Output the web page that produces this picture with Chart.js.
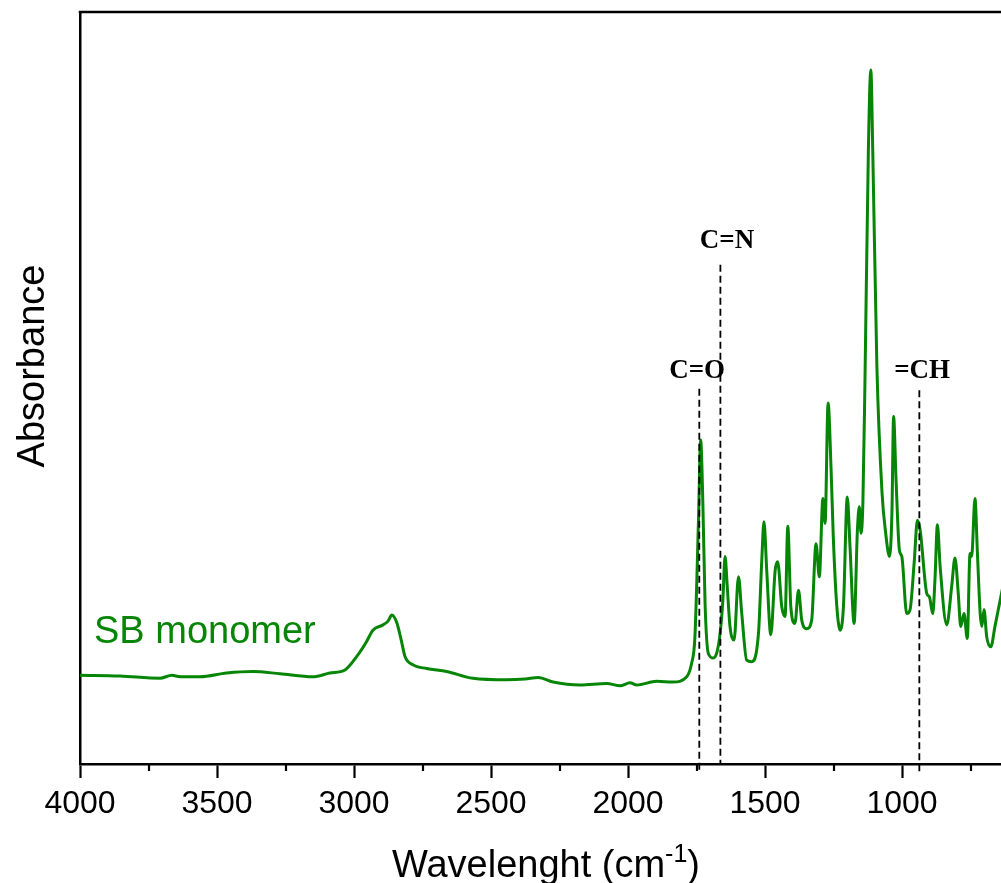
<!DOCTYPE html>
<html>
<head>
<meta charset="utf-8">
<script src="https://cdn.jsdelivr.net/npm/chart.js@4/dist/chart.umd.min.js"></script>
<style>
    html, body { margin: 0; padding: 0; background: #fff; }
    #wrap { width: 1001px; height: 883px; }
</style>
</head>
<body>
<div id="wrap"><canvas id="ftir" width="1001" height="883"></canvas></div>
<script>
// FTIR spectrum (wavenumber in cm-1, absorbance in a.u.)
const wavenumbers = [
    4000, 3854, 3708, 3665, 3635, 3562, 3465, 3369, 3270, 3150, 3088, 3033, 2990, 2954, 2931,
    2894, 2876, 2862, 2844, 2828, 2814, 2785, 2735, 2662, 2566, 2443, 2376, 2328, 2274, 2175,
    2078, 2029, 1993, 1968, 1895, 1836, 1786, 1768, 1756, 1743, 1735, 1727, 1719, 1707, 1689,
    1676, 1664, 1654, 1646, 1638, 1628, 1613, 1597, 1585, 1567, 1549, 1524, 1512, 1504, 1494,
    1479, 1463, 1454, 1439, 1427, 1417, 1406, 1391, 1378, 1366, 1348, 1330, 1314, 1302, 1289,
    1281, 1270, 1259, 1251, 1239, 1226, 1214, 1200, 1190, 1175, 1163, 1156, 1150, 1143, 1135,
    1123, 1114, 1107, 1092, 1073, 1061, 1046, 1037, 1031, 1022, 1010, 1001, 983, 971, 956,
    944, 934, 910, 900, 888, 880, 871, 861, 837, 819, 807, 795, 786, 774, 762,
    752, 746, 734, 725, 715, 709, 701, 691, 676, 661, 642, 631
];
const absorbance = [
    0.118, 0.117, 0.114, 0.118, 0.116, 0.116, 0.121, 0.123, 0.120, 0.116, 0.121, 0.125, 0.143, 0.163, 0.178,
    0.185, 0.190, 0.198, 0.188, 0.165, 0.143, 0.132, 0.127, 0.123, 0.114, 0.112, 0.113, 0.115, 0.109, 0.105,
    0.107, 0.104, 0.108, 0.105, 0.110, 0.109, 0.116, 0.134, 0.169, 0.324, 0.431, 0.347, 0.214, 0.147, 0.141,
    0.148, 0.174, 0.218, 0.276, 0.236, 0.183, 0.165, 0.249, 0.200, 0.138, 0.136, 0.174, 0.271, 0.322, 0.258,
    0.172, 0.258, 0.269, 0.209, 0.196, 0.316, 0.209, 0.187, 0.231, 0.191, 0.180, 0.191, 0.293, 0.249, 0.353,
    0.320, 0.480, 0.391, 0.302, 0.214, 0.178, 0.209, 0.355, 0.289, 0.187, 0.311, 0.342, 0.307, 0.347, 0.520,
    0.816, 0.923, 0.816, 0.530, 0.360, 0.311, 0.276, 0.334, 0.462, 0.378, 0.285, 0.276, 0.200, 0.205, 0.267,
    0.324, 0.311, 0.227, 0.222, 0.200, 0.245, 0.318, 0.262, 0.185, 0.236, 0.274, 0.227, 0.183, 0.200, 0.167,
    0.280, 0.276, 0.353, 0.280, 0.200, 0.183, 0.205, 0.169, 0.156, 0.183, 0.218, 0.238
];
const xTicks = [4000, 3500, 3000, 2500, 2000, 1500, 1000];
const xMinorTicks = [3750, 3250, 2750, 2250, 1750, 1250, 750];

// band assignments: dashed marker position, top of marker, label anchor
const bandNames = ['C=O', 'C=N', '=CH'];
const bandPositions = [1740, 1663, 937];
const bandTops = [0.499, 0.664, 0.497];
const bandLabelX = [1748, 1639, 927];
const bandLabelY = [0.513, 0.686, 0.513];

const seriesName = 'SB monomer';
const green = '#068506';

const decorPlugin = {
    id: 'decor',
    afterDraw(chart) {
        const ctx = chart.ctx;
        const area = chart.chartArea;
        const x = chart.scales.x;
        const y = chart.scales.y;
        ctx.save();

        // top frame line
        ctx.strokeStyle = '#000';
        ctx.lineWidth = 2.5;
        ctx.beginPath();
        ctx.moveTo(area.left - 1.25, area.top);
        ctx.lineTo(area.right, area.top);
        ctx.stroke();

        // minor ticks
        ctx.lineWidth = 2.2;
        xMinorTicks.forEach(v => {
            const px = Math.round(x.getPixelForValue(v));
            ctx.beginPath();
            ctx.moveTo(px, area.bottom);
            ctx.lineTo(px, area.bottom + 7);
            ctx.stroke();
        });

        // band markers
        ctx.lineWidth = 1.8;
        ctx.setLineDash([7, 4]);
        bandPositions.forEach((v, i) => {
            const px = x.getPixelForValue(v);
            ctx.beginPath();
            ctx.moveTo(px, y.getPixelForValue(bandTops[i]));
            ctx.lineTo(px, y.getPixelForValue(i === 1 ? 0 : -0.011));
            ctx.stroke();
        });
        ctx.setLineDash([]);

        ctx.fillStyle = '#000';
        ctx.font = 'bold 27px "Liberation Serif", "Times New Roman", serif';
        ctx.textAlign = 'center';
        ctx.textBaseline = 'alphabetic';
        bandNames.forEach((name, i) => {
            ctx.fillText(name, x.getPixelForValue(bandLabelX[i]), y.getPixelForValue(bandLabelY[i]));
        });

        // series label
        ctx.fillStyle = green;
        ctx.font = '38px "Liberation Sans", Arial, sans-serif';
        ctx.textAlign = 'left';
        ctx.fillText(seriesName, 94, 643);

        // axis titles
        ctx.fillStyle = '#000';
        ctx.font = '38px "Liberation Sans", Arial, sans-serif';
        ctx.save();
        ctx.translate(44, 366);
        ctx.rotate(-Math.PI / 2);
        ctx.textAlign = 'center';
        ctx.fillText('Absorbance', 0, 0);
        ctx.restore();

        const main = 'Wavelenght (cm';
        const sup = '-1';
        const close = ')';
        ctx.font = '38px "Liberation Sans", Arial, sans-serif';
        const wMain = ctx.measureText(main).width;
        const wClose = ctx.measureText(close).width;
        ctx.font = '25px "Liberation Sans", Arial, sans-serif';
        const wSup = ctx.measureText(sup).width;
        const start = 546 - (wMain + wSup + wClose) / 2;
        const base = 877;
        ctx.textAlign = 'left';
        ctx.font = '38px "Liberation Sans", Arial, sans-serif';
        ctx.fillText(main, start, base);
        ctx.font = '25px "Liberation Sans", Arial, sans-serif';
        ctx.fillText(sup, start + wMain, base - 15);
        ctx.font = '38px "Liberation Sans", Arial, sans-serif';
        ctx.fillText(close, start + wMain + wSup, base);

        ctx.restore();
    }
};

new Chart(document.getElementById('ftir'), {
    type: 'line',
    data: {
        datasets: [{
            label: seriesName,
            data: wavenumbers.map((w, i) => ({ x: w, y: absorbance[i] })),
            borderColor: green,
            borderWidth: 3,
            pointRadius: 0,
            fill: false,
            cubicInterpolationMode: 'monotone'
        }]
    },
    options: {
        responsive: false,
        animation: false,
        devicePixelRatio: 1,
        layout: { padding: { top: 12, left: 0, right: 0, bottom: 0 } },
        plugins: {
            legend: { display: false },
            tooltip: { enabled: false }
        },
        scales: {
            x: {
                type: 'linear',
                reverse: true,
                min: 639,
                max: 4000,
                afterBuildTicks: scale => { scale.ticks = xTicks.map(v => ({ value: v })); },
                afterFit: scale => { scale.height = 119; },
                ticks: {
                    color: '#000',
                    font: { family: '"Liberation Sans Narrow", "Arial Narrow", "Liberation Sans", sans-serif', size: 32 },
                    padding: 7,
                    maxRotation: 0,
                    autoSkip: false,
                    callback: v => String(v)
                },
                grid: {
                    drawOnChartArea: false,
                    drawTicks: true,
                    tickLength: 14,
                    tickWidth: 2.2,
                    tickColor: '#000'
                },
                border: { display: true, color: '#000', width: 2.5 }
            },
            y: {
                min: 0,
                max: 1,
                afterFit: scale => { scale.width = 80; },
                ticks: { display: false },
                grid: { display: false },
                border: { display: true, color: '#000', width: 2.5 }
            }
        }
    },
    plugins: [decorPlugin]
});
</script>
</body>
</html>
